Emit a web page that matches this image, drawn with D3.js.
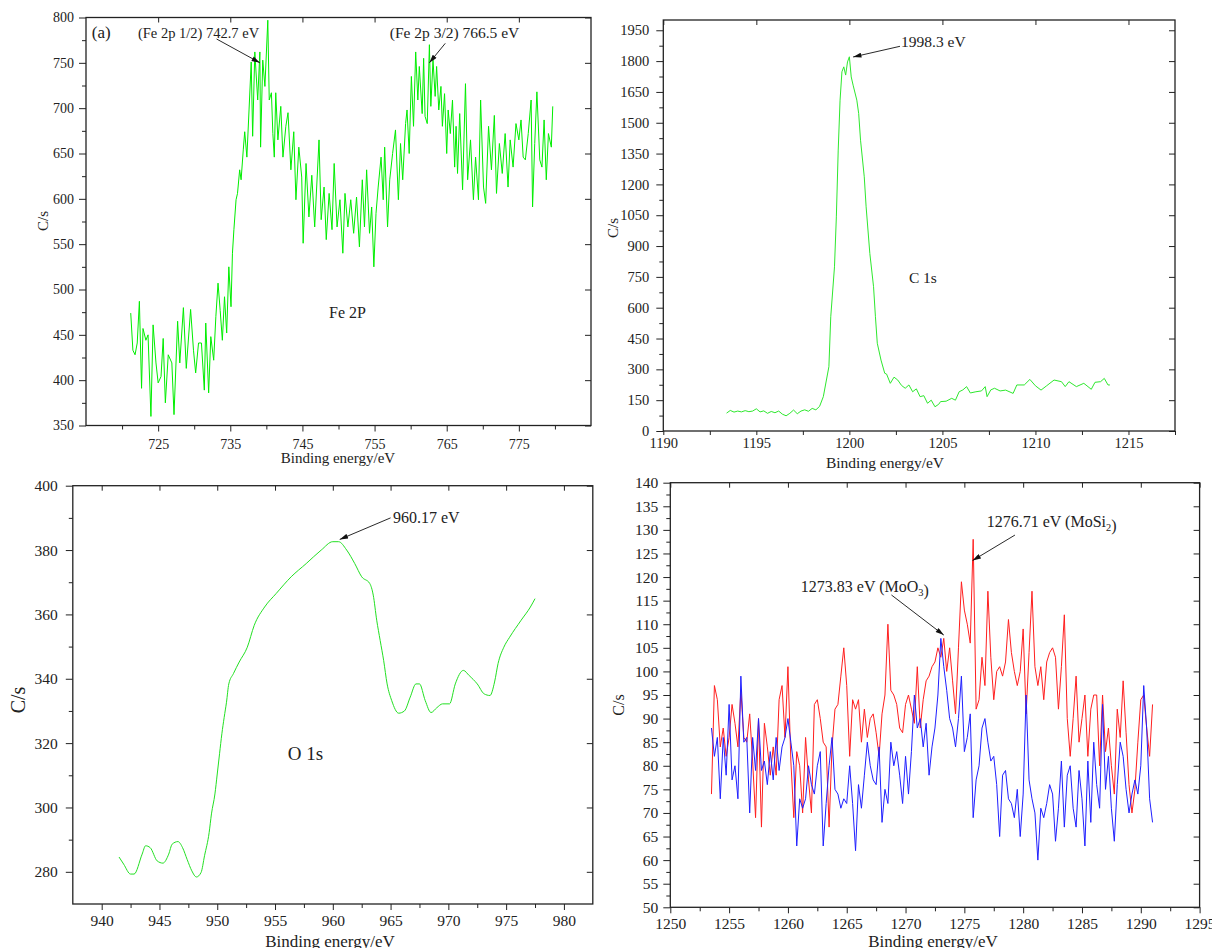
<!DOCTYPE html>
<html>
<head>
<meta charset="UTF-8">
<title>XPS spectra</title>
<style>
  body { margin: 0; background: #fff; }
</style>
</head>
<body>
<div id="chart"></div>
<script src="https://cdnjs.cloudflare.com/ajax/libs/d3/7.8.5/d3.min.js"></script>
<script>
// ---- Fe 2p (top left) ----
const feEnergy = [721.2,721.5,721.8,722.1,722.4,722.7,722.9,723.3,723.6,724.0,724.3,724.7,725.0,725.4,725.7,726.0,726.4,726.9,727.2,727.7,
  728.0,728.5,728.9,729.5,729.9,730.2,730.6,731.0,731.4,731.6,732.0,732.3,732.7,733.0,733.3,733.6,733.9,734.2,734.5,734.8,
  735.1,735.3,735.5,735.8,736.0,736.3,736.5,736.8,737.0,737.3,737.6,737.9,738.1,738.4,738.8,739.1,739.2,739.5,739.8,740.2,
  740.4,740.7,740.9,741.1,741.3,741.6,742.0,742.3,742.7,743.0,743.4,743.8,744.1,744.5,744.9,745.1,745.5,745.9,746.3,746.7,
  747.3,747.6,748.0,748.3,748.7,749.1,749.4,749.8,750.2,750.6,750.9,751.3,751.7,752.1,752.5,752.9,753.3,753.6,753.9,754.3,
  754.6,754.9,755.2,755.5,755.9,756.2,756.4,756.8,757.1,757.5,757.9,758.3,758.6,758.9,759.3,759.5,759.8,760.1,760.4,760.7,
  761.0,761.2,761.6,761.8,762.0,762.3,762.6,762.8,763.1,763.4,763.6,763.9,764.2,764.4,764.7,765.0,765.2,765.5,765.8,766.1,
  766.3,766.5,766.8,767.2,767.6,767.9,768.3,768.7,769.0,769.4,769.7,770.1,770.4,770.8,771.2,771.6,771.9,772.3,772.7,773.1,
  773.5,773.8,774.2,774.6,775.0,775.3,775.6,775.9,776.3,776.7,776.9,777.2,777.5,777.9,778.2,778.5,778.8,779.1,779.5,779.7];
const feCounts = [474,433,428,441,487,391,457,444,450,360,461,419,397,404,446,375,428,419,362,465,
  419,480,413,478,433,408,441,441,389,463,386,448,422,470,507,477,444,492,452,525,
  481,540,566,599,606,632,621,654,674,646,698,751,669,762,709,762,657,753,724,797,
  709,717,672,646,717,665,702,646,680,695,632,674,599,657,624,551,639,580,626,569,
  665,577,613,555,606,566,639,569,599,540,606,569,599,562,602,547,621,569,632,562,
  591,525,584,613,646,599,657,569,621,650,676,599,661,621,683,698,650,735,680,762,
  709,746,694,755,691,683,770,702,753,713,746,698,724,680,716,650,698,672,709,635,
  680,628,694,610,727,621,665,599,646,599,709,613,595,680,632,692,606,661,628,672,
  613,665,635,683,665,687,646,643,672,709,591,661,718,643,635,687,621,672,657,702];

// ---- C 1s (top right) ----
const cEnergy = [1193.4,1193.6,1193.8,1194.0,1194.2,1194.4,1194.6,1194.8,1195.0,1195.2,1195.4,1195.6,1195.8,1196.0,1196.2,1196.4,1196.6,1196.8,1197.0,1197.2,
  1197.4,1197.6,1197.8,1198.0,1198.2,1198.4,1198.6,1198.9,1199.0,1199.2,1199.3,1199.4,1199.5,1199.6,1199.7,1199.8,1199.9,1200.0,1200.1,1200.2,
  1200.4,1200.5,1200.6,1200.8,1200.9,1201.1,1201.3,1201.4,1201.5,1201.7,1201.9,1202.0,1202.2,1202.4,1202.6,1202.8,1203.0,1203.2,1203.4,1203.6,
  1203.8,1204.0,1204.2,1204.4,1204.6,1204.8,1204.9,1205.2,1205.5,1205.7,1205.9,1206.1,1206.3,1206.5,1206.8,1207.1,1207.3,1207.4,1207.6,1207.8,
  1208.1,1208.4,1208.8,1209.0,1209.4,1209.7,1210.0,1210.3,1210.6,1211.0,1211.4,1211.6,1211.8,1212.2,1212.6,1213.0,1213.2,1213.5,1213.7,1213.9,1214.0];
const cCounts = [87,100,92,97,93,99,94,97,108,93,98,86,95,89,97,82,74,86,102,84,
  97,103,96,110,103,120,167,313,556,799,1042,1367,1610,1748,1772,1732,1796,1821,1723,1683,
  1610,1545,1415,1237,1091,864,702,556,427,345,281,277,232,262,248,222,208,224,191,205,
  167,172,135,150,118,130,143,145,159,150,191,200,216,185,191,195,216,167,200,208,
  195,199,183,224,224,251,220,199,220,248,240,216,240,216,232,203,237,240,256,224,224];

// ---- O 1s (bottom left) ----
const oEnergy = [941.5,941.9,942.5,942.8,943.5,943.8,944.2,944.8,945.3,945.8,946.1,946.6,947.0,947.4,947.8,948.2,948.6,948.9,949.3,949.5,
  949.8,950.0,950.2,950.4,950.6,950.8,951.0,951.4,951.9,952.6,953.2,954.1,955.1,956.4,957.7,959.0,960.0,960.5,961.2,961.9,
  962.5,963.2,963.5,963.8,964.1,964.4,964.7,965.1,965.7,966.2,966.7,967.2,967.5,968.0,968.5,969.0,969.5,970.1,970.6,971.3,
  971.8,972.5,973.1,973.6,974.0,974.3,974.8,975.3,976.3,977.1,977.5];
const oCounts = [284.6,282.4,279.3,279.3,285.5,288.1,287.5,283.4,282.7,285.5,288.6,289.4,287.5,283.8,280.3,278.4,279.8,285,292.2,298,
  304.2,310.4,316.7,322.9,328,332.7,338.4,341.6,345.2,349.8,356.6,362.3,366.5,371.7,375.8,380,382.6,382.6,380,375.8,
  371.7,369.6,366,358.2,351.9,345.7,338.4,333.2,329.3,330,334.3,338.4,338.4,333.2,329.5,331,332.2,332.2,338.4,342.6,
  341,338.4,335.3,334.8,339,344.7,349.8,352.9,358.2,362.3,364.9];

// ---- Mo (bottom right): red = MoSi2, blue = MoO3 ----
const moEnergy = [1253.5,1253.75,1254,1254.25,1254.5,1254.75,1255,1255.25,1255.5,1255.75,1256,1256.25,1256.5,1256.75,1257,1257.25,1257.5,1257.75,1258,1258.25,
  1258.5,1258.75,1259,1259.25,1259.5,1259.75,1260,1260.25,1260.5,1260.75,1261,1261.25,1261.5,1261.75,1262,1262.25,1262.5,1262.75,1263,1263.25,
  1263.5,1263.75,1264,1264.25,1264.5,1264.75,1265,1265.25,1265.5,1265.75,1266,1266.25,1266.5,1266.75,1267,1267.25,1267.5,1267.75,1268,1268.25,
  1268.5,1268.75,1269,1269.25,1269.5,1269.75,1270,1270.25,1270.5,1270.75,1271,1271.25,1271.5,1271.75,1272,1272.25,1272.5,1272.75,1273,1273.25,
  1273.5,1273.75,1274,1274.25,1274.5,1274.75,1275,1275.25,1275.5,1275.75,1276,1276.25,1276.5,1276.75,1277,1277.25,1277.5,1277.75,1278,1278.25,
  1278.5,1278.75,1279,1279.25,1279.5,1279.75,1280,1280.25,1280.5,1280.75,1281,1281.25,1281.5,1281.75,1282,1282.25,1282.5,1282.75,1283,1283.25,
  1283.5,1283.75,1284,1284.25,1284.5,1284.75,1285,1285.25,1285.5,1285.75,1286,1286.25,1286.5,1286.75,1287,1287.25,1287.5,1287.75,1288,1288.25,
  1288.5,1288.75,1289,1289.25,1289.5,1289.75,1290,1290.25,1290.5,1290.75,1291];
const moSi2Counts = [74,97,94,84,88,82,86,93,89,84,96,86,85,91,81,69,90,67,89,84,
  78,84,78,94,97,86,101,81,69,83,80,70,86,77,70,93,94,90,85,84,
  67,84,92,93,99,105,97,82,94,92,94,85,92,86,90,91,87,82,91,95,
  110,96,95,93,88,87,93,95,92,89,101,88,94,98,99,101,102,105,103,107,
  100,105,98,91,105,119,113,110,106,128,92,94,103,97,117,103,94,100,101,99,
  102,111,104,100,97,100,109,91,104,117,101,97,101,94,102,104,105,103,92,101,
  112,90,82,90,99,85,90,95,82,92,95,95,80,95,83,88,80,74,92,86,
  98,87,76,70,75,85,94,95,88,82,93];
const moO3Counts = [88,82,86,73,86,78,93,77,80,73,99,85,86,70,86,79,90,79,81,76,
  83,77,86,79,84,86,90,85,80,63,73,71,73,80,76,74,80,83,63,72,
  80,86,75,74,71,73,72,80,72,62,76,71,78,85,80,77,76,84,68,75,
  72,85,80,83,78,72,82,74,83,95,88,90,84,89,78,84,88,95,107,101,
  96,90,88,84,90,99,83,86,91,69,77,80,88,90,85,81,82,76,65,78,
  79,73,72,69,75,65,74,95,77,73,70,60,71,69,72,76,74,64,71,81,
  67,78,80,71,67,79,73,63,81,68,85,76,71,93,75,82,71,64,76,85,
  82,75,70,74,77,74,80,97,88,73,68];

// tick values
const feXTicks = [725,735,745,755,765,775];
const feYTicks = [350,400,450,500,550,600,650,700,750,800];
const cXTicks = [1190,1195,1200,1205,1210,1215];
const cYTicks = [0,150,300,450,600,750,900,1050,1200,1350,1500,1650,1800,1950];
const oXTicks = [940,945,950,955,960,965,970,975,980];
const oYTicks = [280,300,320,340,360,380,400];
const moXTicks = [1250,1255,1260,1265,1270,1275,1280,1285,1290,1295];
const moYTicks = [50,55,60,65,70,75,80,85,90,95,100,105,110,115,120,125,130,135,140];

const serif = '"Liberation Serif", "Times New Roman", serif';
const svg = d3.select("#chart").append("svg")
  .attr("width", 1212)
  .attr("height", 948)
  .style("background", "#fff");

svg.append("defs").append("marker")
  .attr("id", "head")
  .attr("viewBox", "0 0 10 6")
  .attr("refX", 10).attr("refY", 3)
  .attr("markerWidth", 10).attr("markerHeight", 5)
  .attr("markerUnits", "userSpaceOnUse")
  .attr("orient", "auto")
  .append("path").attr("d", "M0,0 L10,3 L0,6 Z").attr("fill", "#111");

function tidy(sel, size) {
  sel.select(".domain").remove();
  sel.selectAll("line").attr("stroke", "#222");
  sel.selectAll("text").attr("font-family", serif).attr("font-size", size).attr("fill", "#222");
}

function drawPanel(p) {
  const [l, t, r, b] = p.box;
  const x = d3.scaleLinear().domain(p.xDomain).range([l, r]);
  const y = d3.scaleLinear().domain(p.yDomain).range([b, t]);
  const g = svg.append("g");

  // bottom axis: minor then labelled
  g.append("g").attr("transform", `translate(0,${b})`)
    .call(d3.axisBottom(x).tickValues(p.xMinor).tickSize(4).tickFormat(""))
    .call(tidy, p.font);
  g.append("g").attr("transform", `translate(0,${b})`)
    .call(d3.axisBottom(x).tickValues(p.xTicks).tickSize(p.xTickLen).tickPadding(p.xPad).tickFormat(d3.format("d")))
    .call(tidy, p.font);
  // left axis
  g.append("g").attr("transform", `translate(${l},0)`)
    .call(d3.axisLeft(y).tickValues(p.yMinor).tickSize(4).tickFormat(""))
    .call(tidy, p.font);
  g.append("g").attr("transform", `translate(${l},0)`)
    .call(d3.axisLeft(y).tickValues(p.yTicks).tickSize(7).tickPadding(p.yPad).tickFormat(d3.format("d")))
    .call(tidy, p.font);
  // top + right, ticks inward, no labels
  g.append("g").attr("transform", `translate(0,${t})`)
    .call(d3.axisBottom(x).tickValues(p.xTicks).tickSize(5).tickFormat(""))
    .call(tidy, p.font);
  g.append("g").attr("transform", `translate(${r},0)`)
    .call(d3.axisLeft(y).tickValues(p.yTicks).tickSize(6).tickFormat(""))
    .call(tidy, p.font);

  g.append("rect")
    .attr("x", l).attr("y", t).attr("width", r - l).attr("height", b - t)
    .attr("fill", "none").attr("stroke", "#222").attr("stroke-width", 1.3);

  // axis titles
  g.append("text")
    .attr("x", p.xTitle[0]).attr("y", p.xTitle[1])
    .attr("text-anchor", "middle")
    .attr("font-family", serif).attr("font-size", p.titleFont).attr("fill", "#222")
    .text("Binding energy/eV");
  g.append("text")
    .attr("transform", `translate(${p.yTitle[0]},${p.yTitle[1]}) rotate(-90)`)
    .attr("text-anchor", "middle")
    .attr("font-family", serif).attr("font-size", p.yTitleFont).attr("fill", "#222")
    .text("C/s");

  // spectra
  p.series.forEach(s => {
    const line = d3.line().x(d => x(d[0])).y(d => y(d[1])).curve(s.curve || d3.curveLinear);
    g.append("path")
      .datum(d3.zip(s.x, s.y))
      .attr("d", line)
      .attr("fill", "none")
      .attr("stroke", s.color)
      .attr("stroke-width", 1)
      .attr("stroke-linejoin", "round");
  });

  // annotations
  p.notes.forEach(n => {
    const txt = g.append("text")
      .attr("x", x(n.at[0])).attr("y", y(n.at[1]))
      .attr("font-family", serif).attr("font-size", n.size).attr("fill", "#222");
    n.parts.forEach(part => {
      if (part.sub) {
        txt.append("tspan").attr("dy", 4).attr("font-size", n.size * 0.65).text(part.sub);
        txt.append("tspan").attr("dy", -4).text("");
      } else {
        txt.append("tspan").text(part.t);
      }
    });
    if (n.from) {
      g.append("line")
        .attr("x1", x(n.from[0])).attr("y1", y(n.from[1]))
        .attr("x2", x(n.to[0])).attr("y2", y(n.to[1]))
        .attr("stroke", "#111").attr("stroke-width", 0.9)
        .attr("marker-end", "url(#head)");
    }
  });
}

drawPanel({
  box: [86, 17.5, 591, 425.5],
  xDomain: [715, 785], yDomain: [350, 800],
  xTicks: feXTicks, xMinor: d3.range(720, 785, 10),
  yTicks: feYTicks, yMinor: d3.range(375, 800, 50),
  xTickLen: 6, xPad: 8, yPad: 5, font: 14,
  xTitle: [338, 463], yTitle: [48, 221], titleFont: 15, yTitleFont: 15,
  series: [{ x: feEnergy, y: feCounts, color: "#00ee00" }],
  notes: [
    { at: [715.8, 777.4], size: 17, parts: [{ t: "(a)" }] },
    { at: [722.2, 777.4], size: 14.5, parts: [{ t: "(Fe 2p 1/2) 742.7 eV" }], from: [733.1, 776.3], to: [739.1, 750.1] },
    { at: [757.1, 777.4], size: 15.5, parts: [{ t: "(Fe 2p 3/2) 766.5 eV" }], from: [764.8, 771.5], to: [762.6, 750.1] },
    { at: [748.7, 468.5], size: 16, parts: [{ t: "Fe 2P" }] }
  ]
});

drawPanel({
  box: [663.3, 20, 1175, 431],
  xDomain: [1190, 1217.5], yDomain: [0, 2000],
  xTicks: cXTicks, xMinor: d3.range(1192.5, 1217.6, 5),
  yTicks: cYTicks, yMinor: d3.range(75, 2000, 150),
  xTickLen: 4, xPad: 3, yPad: 7, font: 14.5,
  xTitle: [885, 468], yTitle: [618, 228], titleFont: 15.5, yTitleFont: 15,
  series: [{ x: cEnergy, y: cCounts, color: "#2ee82e" }],
  notes: [
    { at: [1202.78, 1870], size: 15.5, parts: [{ t: "1998.3 eV" }], from: [1202.72, 1872], to: [1200.2, 1820] },
    { at: [1203.2, 720], size: 15.5, parts: [{ t: "C 1s" }] }
  ]
});

drawPanel({
  box: [72.8, 485.7, 592.8, 904],
  xDomain: [937.5, 982.5], yDomain: [270, 400],
  xTicks: oXTicks, xMinor: d3.range(942.5, 982.5, 5),
  yTicks: oYTicks, yMinor: d3.range(290, 400, 20),
  xTickLen: 6, xPad: 5, yPad: 8, font: 15.5,
  xTitle: [330, 947], yTitle: [25, 700], titleFont: 17, yTitleFont: 20,
  series: [{ x: oEnergy, y: oCounts, color: "#22e022", curve: d3.curveMonotoneX }],
  notes: [
    { at: [965.2, 388.4], size: 16, parts: [{ t: "960.17 eV" }], from: [965.0, 390.0], to: [960.6, 383.3] },
    { at: [956.1, 314.9], size: 19, parts: [{ t: "O 1s" }] }
  ]
});

drawPanel({
  box: [670.3, 482.7, 1199.6, 907.3],
  xDomain: [1250, 1295], yDomain: [50, 140],
  xTicks: moXTicks, xMinor: d3.range(1252.5, 1295, 5),
  yTicks: moYTicks, yMinor: d3.range(52.5, 140, 5),
  xTickLen: 6, xPad: 5, yPad: 5, font: 15.5,
  xTitle: [933, 947], yTitle: [624, 705], titleFont: 17, yTitleFont: 16,
  series: [
    { x: moEnergy, y: moSi2Counts, color: "#ff1f1f" },
    { x: moEnergy, y: moO3Counts, color: "#1f1fff" }
  ],
  notes: [
    { at: [1276.9, 130.6], size: 16, parts: [{ t: "1276.71 eV (MoSi" }, { sub: "2" }, { t: ")" }], from: [1279.3, 128.9], to: [1275.7, 123.5] },
    { at: [1261.1, 116.8], size: 16, parts: [{ t: "1273.83 eV (MoO" }, { sub: "3" }, { t: ")" }], from: [1268.8, 116.2], to: [1273.25, 107.7] }
  ]
});
</script>
</body>
</html>
